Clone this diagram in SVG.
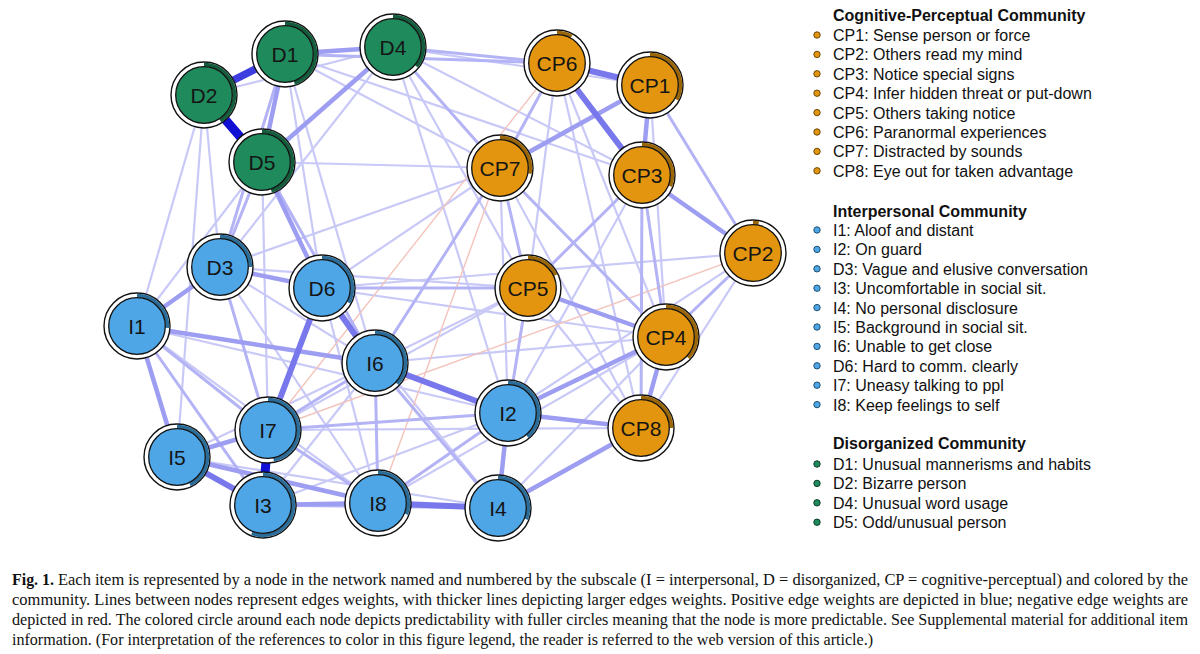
<svg xmlns="http://www.w3.org/2000/svg" width="1200" height="654" viewBox="0 0 1200 654">
<style>
.e1{stroke:#c9c9f7;stroke-width:2.2;stroke-linecap:round}
.e2{stroke:#b3b3f5;stroke-width:3;stroke-linecap:round}
.e3{stroke:#9d9df2;stroke-width:4.5;stroke-linecap:round}
.e4{stroke:#7878ec;stroke-width:6;stroke-linecap:round}
.e5{stroke:#3d3de0;stroke-width:7.5}
.e6{stroke:#1010d4;stroke-width:9}
.en{stroke:#f3c4bc;stroke-width:1.4}
.ring{fill:#fff;stroke:#111;stroke-width:1.4}
.inner{stroke:#111;stroke-width:1.3}
.arc{fill:none;stroke-width:3.8}
.cp .inner{fill:#e3950f}.cp .arc{stroke:#9a6608}
.ip .inner{fill:#4ea6e6}.ip .arc{stroke:#2c6c98}
.dg .inner{fill:#1f8a5c}.dg .arc{stroke:#135c3c}
.lbl{font-family:"Liberation Sans",Arial,sans-serif;font-size:21px;fill:#151515;text-anchor:middle}
.lg{font-family:"Liberation Sans",Arial,sans-serif;font-size:16px;fill:#111}
.lh{font-weight:bold}
.cap{font-family:"Liberation Serif","Times New Roman",serif;font-size:16px;fill:#111}
.bcp{fill:#e3950f;stroke:#6b4a0a;stroke-width:1}
.bip{fill:#4ea6e6;stroke:#1f4f70;stroke-width:1}
.bdg{fill:#1f8a5c;stroke:#0e3d28;stroke-width:1}
</style>
<rect width="1200" height="654" fill="#fff"/>
<g id="connectors">
<line class="e1" x1="393" y1="47" x2="642" y2="175"/>
<line class="e1" x1="393" y1="47" x2="650" y2="85"/>
<line class="e1" x1="285" y1="54" x2="500" y2="168"/>
<line class="e1" x1="204" y1="95" x2="137" y2="326"/>
<line class="e1" x1="204" y1="95" x2="220" y2="267"/>
<line class="e1" x1="262" y1="162" x2="137" y2="326"/>
<line class="e1" x1="262" y1="162" x2="500" y2="168"/>
<line class="e1" x1="322" y1="288" x2="500" y2="168"/>
<line class="e1" x1="220" y1="267" x2="528" y2="288"/>
<line class="e1" x1="220" y1="267" x2="375" y2="363"/>
<line class="e1" x1="220" y1="267" x2="378" y2="503"/>
<line class="e1" x1="137" y1="326" x2="378" y2="503"/>
<line class="e1" x1="137" y1="326" x2="508" y2="413"/>
<line class="e1" x1="322" y1="288" x2="378" y2="503"/>
<line class="e1" x1="322" y1="288" x2="498" y2="508"/>
<line class="e1" x1="268" y1="430" x2="528" y2="288"/>
<line class="e1" x1="263" y1="505" x2="508" y2="413"/>
<line class="e1" x1="378" y1="503" x2="666" y2="337"/>
<line class="e1" x1="498" y1="508" x2="666" y2="337"/>
<line class="e1" x1="375" y1="363" x2="528" y2="288"/>
<line class="e1" x1="500" y1="168" x2="508" y2="413"/>
<line class="e1" x1="500" y1="168" x2="641" y2="428"/>
<line class="e1" x1="753" y1="253" x2="508" y2="413"/>
<line class="e1" x1="753" y1="253" x2="641" y2="428"/>
<line class="e1" x1="528" y1="288" x2="641" y2="428"/>
<line class="e1" x1="557" y1="63" x2="666" y2="337"/>
<line class="e1" x1="650" y1="85" x2="666" y2="337"/>
<line class="e1" x1="393" y1="47" x2="508" y2="413"/>
<line class="e1" x1="322" y1="288" x2="666" y2="337"/>
<line class="e1" x1="177" y1="457" x2="375" y2="363"/>
<line class="e1" x1="177" y1="457" x2="498" y2="508"/>
<line class="e1" x1="263" y1="505" x2="375" y2="363"/>
<line class="e1" x1="220" y1="267" x2="500" y2="168"/>
<line class="e1" x1="204" y1="95" x2="393" y2="47"/>
<line class="e1" x1="393" y1="47" x2="528" y2="288"/>
<line class="e1" x1="557" y1="63" x2="528" y2="288"/>
<line class="e1" x1="285" y1="54" x2="375" y2="363"/>
<line class="e1" x1="204" y1="95" x2="177" y2="457"/>
<line class="e1" x1="285" y1="54" x2="322" y2="288"/>
<line class="e1" x1="557" y1="63" x2="641" y2="428"/>
<line class="e1" x1="642" y1="175" x2="508" y2="413"/>
<line class="e1" x1="322" y1="288" x2="753" y2="253"/>
<line class="e1" x1="375" y1="363" x2="666" y2="337"/>
<line class="e1" x1="262" y1="162" x2="268" y2="430"/>
<line class="e1" x1="285" y1="54" x2="642" y2="175"/>
<line class="e1" x1="393" y1="47" x2="220" y2="267"/>
<line class="e1" x1="268" y1="430" x2="641" y2="428"/>
<line class="en" x1="500" y1="168" x2="378" y2="503"/>
<line class="en" x1="557" y1="63" x2="268" y2="430"/>
<line class="en" x1="753" y1="253" x2="268" y2="430"/>
<line class="e2" x1="666" y1="337" x2="753" y2="253"/>
<line class="e2" x1="500" y1="168" x2="528" y2="288"/>
<line class="e2" x1="642" y1="175" x2="666" y2="337"/>
<line class="e2" x1="375" y1="363" x2="378" y2="503"/>
<line class="e2" x1="375" y1="363" x2="498" y2="508"/>
<line class="e2" x1="393" y1="47" x2="500" y2="168"/>
<line class="e2" x1="393" y1="47" x2="557" y2="63"/>
<line class="e2" x1="268" y1="430" x2="378" y2="503"/>
<line class="e2" x1="220" y1="267" x2="268" y2="430"/>
<line class="e2" x1="322" y1="288" x2="528" y2="288"/>
<line class="e2" x1="528" y1="288" x2="508" y2="413"/>
<line class="e2" x1="500" y1="168" x2="666" y2="337"/>
<line class="e2" x1="642" y1="175" x2="641" y2="428"/>
<line class="e2" x1="528" y1="288" x2="642" y2="175"/>
<line class="e2" x1="285" y1="54" x2="220" y2="267"/>
<line class="e2" x1="262" y1="162" x2="220" y2="267"/>
<line class="e2" x1="262" y1="162" x2="375" y2="363"/>
<line class="e2" x1="137" y1="326" x2="268" y2="430"/>
<line class="e2" x1="137" y1="326" x2="263" y2="505"/>
<line class="e2" x1="375" y1="363" x2="268" y2="430"/>
<line class="e2" x1="268" y1="430" x2="508" y2="413"/>
<line class="e2" x1="378" y1="503" x2="508" y2="413"/>
<line class="e2" x1="500" y1="168" x2="375" y2="363"/>
<line class="e2" x1="650" y1="85" x2="753" y2="253"/>
<line class="e2" x1="557" y1="63" x2="500" y2="168"/>
<line class="e2" x1="263" y1="505" x2="498" y2="508"/>
<line class="e2" x1="285" y1="54" x2="557" y2="63"/>
<line class="e3" x1="285" y1="54" x2="393" y2="47"/>
<line class="e3" x1="285" y1="54" x2="262" y2="162"/>
<line class="e3" x1="393" y1="47" x2="262" y2="162"/>
<line class="e3" x1="650" y1="85" x2="642" y2="175"/>
<line class="e3" x1="650" y1="85" x2="500" y2="168"/>
<line class="e3" x1="262" y1="162" x2="322" y2="288"/>
<line class="e3" x1="220" y1="267" x2="137" y2="326"/>
<line class="e3" x1="220" y1="267" x2="322" y2="288"/>
<line class="e3" x1="137" y1="326" x2="375" y2="363"/>
<line class="e3" x1="137" y1="326" x2="177" y2="457"/>
<line class="e3" x1="177" y1="457" x2="268" y2="430"/>
<line class="e3" x1="508" y1="413" x2="498" y2="508"/>
<line class="e3" x1="508" y1="413" x2="666" y2="337"/>
<line class="e3" x1="508" y1="413" x2="641" y2="428"/>
<line class="e3" x1="498" y1="508" x2="641" y2="428"/>
<line class="e3" x1="666" y1="337" x2="641" y2="428"/>
<line class="e3" x1="642" y1="175" x2="753" y2="253"/>
<line class="e3" x1="528" y1="288" x2="666" y2="337"/>
<line class="e3" x1="263" y1="505" x2="378" y2="503"/>
<line class="e3" x1="177" y1="457" x2="378" y2="503"/>
<line class="e4" x1="557" y1="63" x2="650" y2="85"/>
<line class="e4" x1="557" y1="63" x2="642" y2="175"/>
<line class="e4" x1="177" y1="457" x2="263" y2="505"/>
<line class="e4" x1="378" y1="503" x2="498" y2="508"/>
<line class="e4" x1="322" y1="288" x2="375" y2="363"/>
<line class="e4" x1="322" y1="288" x2="268" y2="430"/>
<line class="e4" x1="375" y1="363" x2="508" y2="413"/>
<line class="e5" x1="285" y1="54" x2="204" y2="95"/>
<line class="e6" x1="204" y1="95" x2="262" y2="162"/>
<line class="e6" x1="268" y1="430" x2="263" y2="505"/>
</g>
<g id="node-D1" class="dg" transform="translate(285,54)"><circle class="ring" r="33"/><circle class="arc" r="30.4" pathLength="100" stroke-dasharray="45 100" transform="rotate(-90)"/><circle class="inner" r="28.3"/><text class="lbl" y="7.5">D1</text></g>
<g id="node-D2" class="dg" transform="translate(204,95)"><circle class="ring" r="33"/><circle class="arc" r="30.4" pathLength="100" stroke-dasharray="41 100" transform="rotate(-90)"/><circle class="inner" r="28.3"/><text class="lbl" y="7.5">D2</text></g>
<g id="node-D5" class="dg" transform="translate(262,162)"><circle class="ring" r="33"/><circle class="arc" r="30.4" pathLength="100" stroke-dasharray="45 100" transform="rotate(-90)"/><circle class="inner" r="28.3"/><text class="lbl" y="7.5">D5</text></g>
<g id="node-D4" class="dg" transform="translate(393,47)"><circle class="ring" r="33"/><circle class="arc" r="30.4" pathLength="100" stroke-dasharray="36 100" transform="rotate(-90)"/><circle class="inner" r="28.3"/><text class="lbl" y="7.5">D4</text></g>
<g id="node-CP6" class="cp" transform="translate(557,63)"><circle class="ring" r="33"/><circle class="arc" r="30.4" pathLength="100" stroke-dasharray="8 100" transform="rotate(-90)"/><circle class="inner" r="28.3"/><text class="lbl" y="7.5">CP6</text></g>
<g id="node-CP1" class="cp" transform="translate(650,85)"><circle class="ring" r="33"/><circle class="arc" r="30.4" pathLength="100" stroke-dasharray="33 100" transform="rotate(-90)"/><circle class="inner" r="28.3"/><text class="lbl" y="7.5">CP1</text></g>
<g id="node-CP7" class="cp" transform="translate(500,168)"><circle class="ring" r="33"/><circle class="arc" r="30.4" pathLength="100" stroke-dasharray="28 100" transform="rotate(-90)"/><circle class="inner" r="28.3"/><text class="lbl" y="7.5">CP7</text></g>
<g id="node-CP3" class="cp" transform="translate(642,175)"><circle class="ring" r="33"/><circle class="arc" r="30.4" pathLength="100" stroke-dasharray="31 100" transform="rotate(-90)"/><circle class="inner" r="28.3"/><text class="lbl" y="7.5">CP3</text></g>
<g id="node-CP2" class="cp" transform="translate(753,253)"><circle class="ring" r="33"/><circle class="arc" r="30.4" pathLength="100" stroke-dasharray="3 100" transform="rotate(-90)"/><circle class="inner" r="28.3"/><text class="lbl" y="7.5">CP2</text></g>
<g id="node-CP5" class="cp" transform="translate(528,288)"><circle class="ring" r="33"/><circle class="arc" r="30.4" pathLength="100" stroke-dasharray="18 100" transform="rotate(-90)"/><circle class="inner" r="28.3"/><text class="lbl" y="7.5">CP5</text></g>
<g id="node-CP4" class="cp" transform="translate(666,337)"><circle class="ring" r="33"/><circle class="arc" r="30.4" pathLength="100" stroke-dasharray="37 100" transform="rotate(-90)"/><circle class="inner" r="28.3"/><text class="lbl" y="7.5">CP4</text></g>
<g id="node-CP8" class="cp" transform="translate(641,428)"><circle class="ring" r="33"/><circle class="arc" r="30.4" pathLength="100" stroke-dasharray="25 100" transform="rotate(-90)"/><circle class="inner" r="28.3"/><text class="lbl" y="7.5">CP8</text></g>
<g id="node-D3" class="ip" transform="translate(220,267)"><circle class="ring" r="33"/><circle class="arc" r="30.4" pathLength="100" stroke-dasharray="25 100" transform="rotate(-90)"/><circle class="inner" r="28.3"/><text class="lbl" y="7.5">D3</text></g>
<g id="node-D6" class="ip" transform="translate(322,288)"><circle class="ring" r="33"/><circle class="arc" r="30.4" pathLength="100" stroke-dasharray="33 100" transform="rotate(-90)"/><circle class="inner" r="28.3"/><text class="lbl" y="7.5">D6</text></g>
<g id="node-I1" class="ip" transform="translate(137,326)"><circle class="ring" r="33"/><circle class="arc" r="30.4" pathLength="100" stroke-dasharray="26 100" transform="rotate(-90)"/><circle class="inner" r="28.3"/><text class="lbl" y="7.5">I1</text></g>
<g id="node-I6" class="ip" transform="translate(375,363)"><circle class="ring" r="33"/><circle class="arc" r="30.4" pathLength="100" stroke-dasharray="37 100" transform="rotate(-90)"/><circle class="inner" r="28.3"/><text class="lbl" y="7.5">I6</text></g>
<g id="node-I7" class="ip" transform="translate(268,430)"><circle class="ring" r="33"/><circle class="arc" r="30.4" pathLength="100" stroke-dasharray="47 100" transform="rotate(-90)"/><circle class="inner" r="28.3"/><text class="lbl" y="7.5">I7</text></g>
<g id="node-I5" class="ip" transform="translate(177,457)"><circle class="ring" r="33"/><circle class="arc" r="30.4" pathLength="100" stroke-dasharray="43 100" transform="rotate(-90)"/><circle class="inner" r="28.3"/><text class="lbl" y="7.5">I5</text></g>
<g id="node-I3" class="ip" transform="translate(263,505)"><circle class="ring" r="33"/><circle class="arc" r="30.4" pathLength="100" stroke-dasharray="56 100" transform="rotate(-90)"/><circle class="inner" r="28.3"/><text class="lbl" y="7.5">I3</text></g>
<g id="node-I8" class="ip" transform="translate(378,503)"><circle class="ring" r="33"/><circle class="arc" r="30.4" pathLength="100" stroke-dasharray="31 100" transform="rotate(-90)"/><circle class="inner" r="28.3"/><text class="lbl" y="7.5">I8</text></g>
<g id="node-I4" class="ip" transform="translate(498,508)"><circle class="ring" r="33"/><circle class="arc" r="30.4" pathLength="100" stroke-dasharray="31 100" transform="rotate(-90)"/><circle class="inner" r="28.3"/><text class="lbl" y="7.5">I4</text></g>
<g id="node-I2" class="ip" transform="translate(508,413)"><circle class="ring" r="33"/><circle class="arc" r="30.4" pathLength="100" stroke-dasharray="39 100" transform="rotate(-90)"/><circle class="inner" r="28.3"/><text class="lbl" y="7.5">I2</text></g>
<g id="legend">
<text class="lg lh" x="833" y="21">Cognitive-Perceptual Community</text>
<circle class="bcp" cx="817" cy="35" r="3.2"/><text class="lg" x="833" y="41">CP1: Sense person or force</text>
<circle class="bcp" cx="817" cy="54.4" r="3.2"/><text class="lg" x="833" y="60.4">CP2: Others read my mind</text>
<circle class="bcp" cx="817" cy="73.8" r="3.2"/><text class="lg" x="833" y="79.8">CP3: Notice special signs</text>
<circle class="bcp" cx="817" cy="93.2" r="3.2"/><text class="lg" x="833" y="99.2">CP4: Infer hidden threat or put-down</text>
<circle class="bcp" cx="817" cy="112.6" r="3.2"/><text class="lg" x="833" y="118.6">CP5: Others taking notice</text>
<circle class="bcp" cx="817" cy="132" r="3.2"/><text class="lg" x="833" y="138">CP6: Paranormal experiences</text>
<circle class="bcp" cx="817" cy="151.4" r="3.2"/><text class="lg" x="833" y="157.4">CP7: Distracted by sounds</text>
<circle class="bcp" cx="817" cy="170.8" r="3.2"/><text class="lg" x="833" y="176.8">CP8: Eye out for taken advantage</text>
<text class="lg lh" x="833" y="217">Interpersonal Community</text>
<circle class="bip" cx="817" cy="230" r="3.2"/><text class="lg" x="833" y="236">I1: Aloof and distant</text>
<circle class="bip" cx="817" cy="249.4" r="3.2"/><text class="lg" x="833" y="255.4">I2: On guard</text>
<circle class="bip" cx="817" cy="268.8" r="3.2"/><text class="lg" x="833" y="274.8">D3: Vague and elusive conversation</text>
<circle class="bip" cx="817" cy="288.2" r="3.2"/><text class="lg" x="833" y="294.2">I3: Uncomfortable in social sit.</text>
<circle class="bip" cx="817" cy="307.6" r="3.2"/><text class="lg" x="833" y="313.6">I4: No personal disclosure</text>
<circle class="bip" cx="817" cy="327" r="3.2"/><text class="lg" x="833" y="333">I5: Background in social sit.</text>
<circle class="bip" cx="817" cy="346.4" r="3.2"/><text class="lg" x="833" y="352.4">I6: Unable to get close</text>
<circle class="bip" cx="817" cy="365.8" r="3.2"/><text class="lg" x="833" y="371.8">D6: Hard to comm. clearly</text>
<circle class="bip" cx="817" cy="385.2" r="3.2"/><text class="lg" x="833" y="391.2">I7: Uneasy talking to ppl</text>
<circle class="bip" cx="817" cy="404.6" r="3.2"/><text class="lg" x="833" y="410.6">I8: Keep feelings to self</text>
<text class="lg lh" x="833" y="449">Disorganized Community</text>
<circle class="bdg" cx="817" cy="464" r="3.2"/><text class="lg" x="833" y="470">D1: Unusual mannerisms and habits</text>
<circle class="bdg" cx="817" cy="483.4" r="3.2"/><text class="lg" x="833" y="489.4">D2: Bizarre person</text>
<circle class="bdg" cx="817" cy="502.8" r="3.2"/><text class="lg" x="833" y="508.8">D4: Unusual word usage</text>
<circle class="bdg" cx="817" cy="522.2" r="3.2"/><text class="lg" x="833" y="528.2">D5: Odd/unusual person</text>
</g>
<g id="caption">
<text class="cap" x="12" y="585" font-weight="bold" textLength="42" lengthAdjust="spacingAndGlyphs">Fig. 1.</text>
<text class="cap" x="58" y="585" textLength="1130" lengthAdjust="spacingAndGlyphs">Each item is represented by a node in the network named and numbered by the subscale (I = interpersonal, D = disorganized, CP = cognitive-perceptual) and colored by the</text>
<text class="cap" x="12" y="605" textLength="1176" lengthAdjust="spacingAndGlyphs">community. Lines between nodes represent edges weights, with thicker lines depicting larger edges weights. Positive edge weights are depicted in blue; negative edge weights are</text>
<text class="cap" x="12" y="625" textLength="1176" lengthAdjust="spacingAndGlyphs">depicted in red. The colored circle around each node depicts predictability with fuller circles meaning that the node is more predictable. See Supplemental material for additional item</text>
<text class="cap" x="12" y="645" textLength="861" lengthAdjust="spacingAndGlyphs">information. (For interpretation of the references to color in this figure legend, the reader is referred to the web version of this article.)</text>
</g>
</svg>
